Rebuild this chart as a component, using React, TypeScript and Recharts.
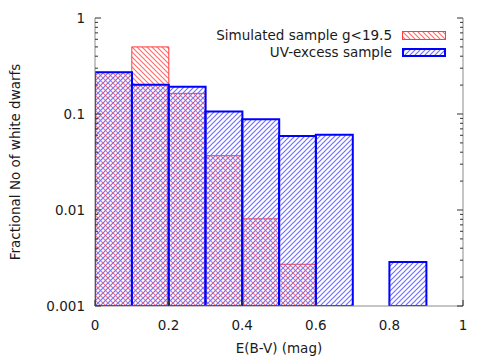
import React from 'react';
import { ComposedChart, Bar, XAxis, YAxis } from 'recharts';

// histogram bins of E(B-V), width 0.1 mag
const binCenters = [0.05, 0.15, 0.25, 0.35, 0.45, 0.55, 0.65, 0.75, 0.85, 0.95];
const simulatedSample = [0.272, 0.5, 0.164, 0.0368, 0.0081, 0.00272, null, null, null, null];
const uvExcessSample = [0.272, 0.202, 0.192, 0.106, 0.088, 0.059, 0.0608, null, 0.00287, null];

const xTicks = [0, 0.2, 0.4, 0.6, 0.8, 1];
const yDecades = [0.001, 0.01, 0.1, 1];
const yDecadeLabels = ['0.001', '0.01', '0.1', '1'];

const data = binCenters.map((x, i) => ({
    x,
    simulated: simulatedSample[i],
    uvExcess: uvExcessSample[i],
}));

// log axis: decades plus 2..9 minor ticks
const yTicks: number[] = [];
yDecades.forEach((d, i) => {
    yTicks.push(d);
    if (i < yDecades.length - 1) {
        for (let m = 2; m <= 9; m++) yTicks.push(+(d * m).toPrecision(3));
    }
});

const FONT = '"DejaVu Sans", sans-serif';
const FS = 13.5;
const TEXT = '#1a1a1a';
const FRAME = '#8c8c8c';
const TICK = '#333';
const RED = '#ff3b3b';
const BLUE = '#0000ff';
const RED_HATCH = '#ff7070';
const BLUE_HATCH = '#7070ff';
const X_MARGIN = 14;
const Y_MARGIN = 10;
const P = 5; // hatch period in px

const BottomTick = (props: any) => {
    const { x, y, payload } = props;
    const axisY = y - X_MARGIN;
    return (
        <g>
            <line x1={x} x2={x} y1={axisY} y2={axisY - 6} stroke={TICK} />
            <text x={x} y={y} dy="0.71em" textAnchor="middle" fill={TEXT} fontSize={FS} fontFamily={FONT}>
                {String(payload.value)}
            </text>
        </g>
    );
};

const TopTick = (props: any) => {
    const { x, y } = props;
    return <line x1={x} x2={x} y1={y} y2={y + 6} stroke={TICK} />;
};

const LeftTick = (props: any) => {
    const { x, y, payload } = props;
    const axisX = x + Y_MARGIN;
    const idx = yDecades.indexOf(payload.value);
    const len = idx >= 0 ? 6 : 3;
    return (
        <g>
            <line x1={axisX} x2={axisX + len} y1={y} y2={y} stroke={TICK} />
            {idx >= 0 && (
                <text x={x} y={y} dy="0.35em" textAnchor="end" fill={TEXT} fontSize={FS} fontFamily={FONT}>
                    {yDecadeLabels[idx]}
                </text>
            )}
        </g>
    );
};

const RightTick = (props: any) => {
    const { x, y, payload } = props;
    const len = yDecades.includes(payload.value) ? 6 : 3;
    return <line x1={x} x2={x - len} y1={y} y2={y} stroke={TICK} />;
};

// forward = "/" lines, otherwise "\" lines
const Hatch = ({ id, color, forward }: { id: string; color: string; forward: boolean }) => {
    const d = forward
        ? `M0,${P} L${P},0 M-1,1 L1,-1 M${P - 1},${P + 1} L${P + 1},${P - 1}`
        : `M0,0 L${P},${P} M-1,${P - 1} L1,${P + 1} M${P - 1},-1 L${P + 1},1`;
    return (
        <pattern id={id} width={P} height={P} patternUnits="userSpaceOnUse">
            <path d={d} stroke={color} strokeWidth={1.2} />
        </pattern>
    );
};

const Swatch = ({ id, color, forward, stroke, sw }: any) => (
    <svg width={44} height={9} style={{ display: 'block', marginLeft: 10 }}>
        <defs>
            <Hatch id={id} color={color} forward={forward} />
        </defs>
        <rect x={sw / 2} y={sw / 2} width={44 - sw} height={9 - sw} fill={`url(#${id})`} stroke={stroke} strokeWidth={sw} />
    </svg>
);

export default function App() {
    const rowStyle: React.CSSProperties = {
        display: 'flex',
        alignItems: 'center',
        justifyContent: 'flex-end',
        height: 17,
    };
    return (
        <div style={{ position: 'relative', width: 483, height: 354, fontFamily: FONT }}>
            <ComposedChart width={483} height={354} data={data} margin={{ top: 10, right: 0, bottom: 0, left: 0 }} barCategoryGap={0} barGap={0}>
                <defs>
                    <Hatch id="hatchRed" color={RED_HATCH} forward={false} />
                    <Hatch id="hatchBlue" color={BLUE_HATCH} forward={true} />
                </defs>
                <XAxis
                    xAxisId="bottom"
                    dataKey="x"
                    type="number"
                    domain={[0, 1]}
                    ticks={xTicks}
                    allowDataOverflow
                    height={56}
                    tickSize={0}
                    tickMargin={X_MARGIN}
                    tick={<BottomTick />}
                    axisLine={{ stroke: FRAME }}
                    interval={0}
                    label={{ value: 'E(B-V) (mag)', position: 'insideBottom', offset: 9, fill: TEXT, fontSize: FS, fontFamily: FONT }}
                />
                <XAxis
                    xAxisId="top"
                    orientation="top"
                    dataKey="x"
                    type="number"
                    domain={[0, 1]}
                    ticks={xTicks}
                    allowDataOverflow
                    height={0}
                    tickSize={0}
                    tickMargin={0}
                    tick={<TopTick />}
                    axisLine={{ stroke: FRAME }}
                    interval={0}
                />
                <YAxis
                    yAxisId="left"
                    scale="log"
                    type="number"
                    domain={[0.001, 1]}
                    ticks={yTicks}
                    allowDataOverflow
                    width={87}
                    tickSize={0}
                    tickMargin={Y_MARGIN}
                    tick={<LeftTick />}
                    axisLine={{ stroke: FRAME }}
                    interval={0}
                    label={{
                        value: 'Fractional No of white dwarfs',
                        angle: -90,
                        position: 'insideLeft',
                        offset: 7,
                        fill: TEXT,
                        fontSize: FS,
                        fontFamily: FONT,
                        style: { textAnchor: 'middle' },
                    }}
                />
                <YAxis
                    yAxisId="right"
                    orientation="right"
                    scale="log"
                    type="number"
                    domain={[0.001, 1]}
                    ticks={yTicks}
                    allowDataOverflow
                    width={28}
                    tickSize={0}
                    tickMargin={0}
                    tick={<RightTick />}
                    axisLine={{ stroke: FRAME }}
                    interval={0}
                />
                <Bar
                    xAxisId="bottom"
                    yAxisId="left"
                    dataKey="simulated"
                    fill="url(#hatchRed)"
                    stroke={RED}
                    strokeWidth={1}
                    isAnimationActive={false}
                />
                <Bar
                    xAxisId="top"
                    yAxisId="left"
                    dataKey="uvExcess"
                    fill="url(#hatchBlue)"
                    stroke={BLUE}
                    strokeWidth={2}
                    isAnimationActive={false}
                />
            </ComposedChart>
            <div style={{ position: 'absolute', top: 18.5, right: 45, fontSize: FS, color: TEXT }}>
                <div style={rowStyle}>
                    <span>Simulated sample g&lt;19.5</span>
                    <Swatch id="legRed" color={RED_HATCH} forward={false} stroke={RED} sw={1} />
                </div>
                <div style={rowStyle}>
                    <span>UV-excess sample</span>
                    <Swatch id="legBlue" color={BLUE_HATCH} forward={true} stroke={BLUE} sw={2} />
                </div>
            </div>
        </div>
    );
}
